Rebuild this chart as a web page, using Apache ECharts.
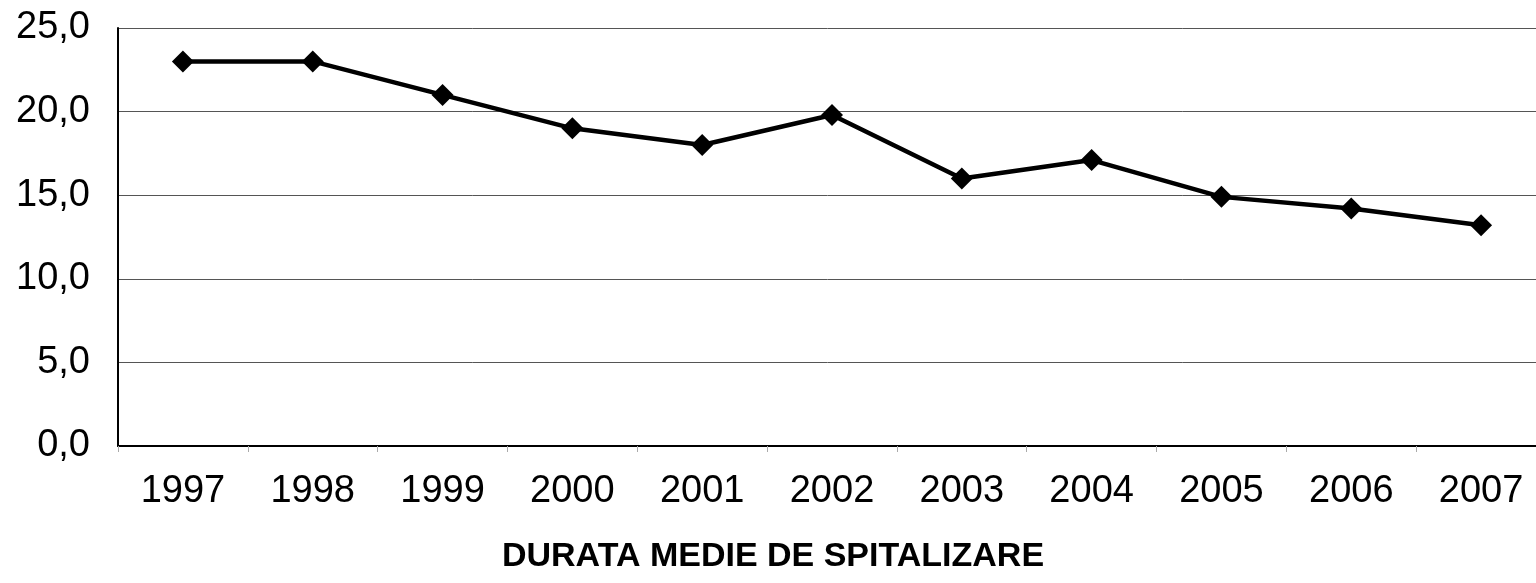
<!DOCTYPE html>
<html>
<head>
<meta charset="utf-8">
<script src="https://cdn.jsdelivr.net/npm/echarts@6/dist/echarts.min.js"></script>
<style>html,body{margin:0;padding:0;background:#fff}#c{width:1536px;height:583px}</style>
</head>
<body>
<div id="c"></div>
<script>
const years = ['1997','1998','1999','2000','2001','2002','2003','2004','2005','2006','2007'];
const durata = [23.0, 23.0, 21.0, 19.0, 18.0, 19.8, 16.0, 17.1, 14.9, 14.2, 13.2];
const titleText = 'DURATA MEDIE DE SPITALIZARE';

const chart = echarts.init(document.getElementById('c'), null, {renderer: 'canvas'});
chart.setOption({
  animation: false,
  backgroundColor: '#ffffff',
  title: {
    text: titleText,
    left: 768, top: 535, textAlign: 'center',
    textStyle: {fontFamily: 'Liberation Sans, Arial, sans-serif', fontWeight: 'bold', fontSize: 34, color: '#000'}
  },
  grid: {left: 118, right: -10, top: 28, bottom: 137, containLabel: false, outerBoundsMode: 'none'},
  xAxis: {
    type: 'category',
    data: years,
    boundaryGap: true,
    axisLine: {show: true, lineStyle: {color: '#000', width: 2}},
    axisTick: {show: true, length: 6, lineStyle: {color: '#aaa', width: 1}},
    axisLabel: {margin: 27, fontFamily: 'Liberation Sans, Arial, sans-serif', fontSize: 38, color: '#000'},
    splitLine: {show: false}
  },
  yAxis: {
    type: 'value',
    min: 0, max: 25, interval: 5,
    axisLine: {show: true, lineStyle: {color: '#000', width: 2}},
    axisTick: {show: false},
    axisLabel: {margin: 28, fontFamily: 'Liberation Sans, Arial, sans-serif', fontSize: 38, color: '#000',
      formatter: v => v.toFixed(1).replace('.', ',')},
    splitLine: {show: true, lineStyle: {color: '#555', width: 1}}
  },
  series: [{
    type: 'line',
    data: durata,
    symbol: 'diamond',
    symbolSize: 22,
    itemStyle: {color: '#000'},
    lineStyle: {color: '#000', width: 4.5},
    z: 5
  }]
});
</script>
</body>
</html>
